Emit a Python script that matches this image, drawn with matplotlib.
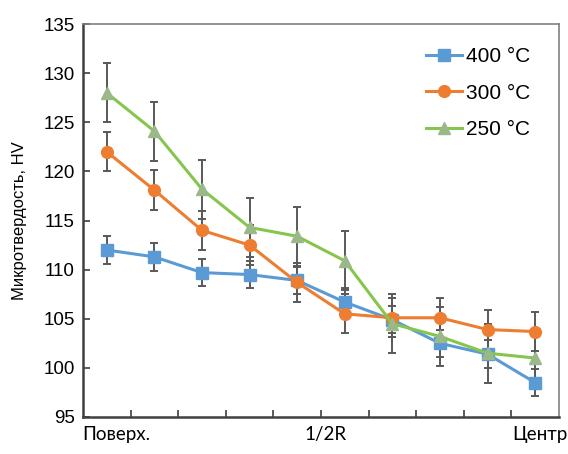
import matplotlib
matplotlib.use('Agg')
import matplotlib.pyplot as plt
import numpy as np
from matplotlib.lines import Line2D
from matplotlib.transforms import blended_transform_factory

plt.rcParams['font.family'] = ['Liberation Sans', 'DejaVu Sans']

# measurement points from the surface to the centre
points = np.arange(10)

hv_400 = [112.0, 111.3, 109.7, 109.5, 108.9, 106.7, 104.9, 102.5, 101.4, 98.5]
hv_300 = [122.0, 118.1, 114.0, 112.5, 108.7, 105.5, 105.1, 105.1, 103.9, 103.7]
hv_250 = [128.0, 124.1, 118.2, 114.3, 113.4, 110.9, 104.5, 103.2, 101.5, 101.0]

err_400 = [1.4] * 10
err_300 = [2.0] * 10
err_250 = [3.0] * 10

series_labels = ['400 °C', '300 °C', '250 °C']
position_labels = ['Поверх.', '1/2R', 'Центр']
label_x = [0.2, 4.6, 9.1]

fig = plt.figure(figsize=(5.68, 4.54), dpi=100)
ax = fig.add_axes([0.146, 0.0815, 0.838, 0.8655])

err_style = dict(ecolor='#595959', elinewidth=1.4, capsize=3, capthick=1.4)
styles = [
    dict(color='#5B9BD5', marker='s', ms=8, mfc='#5B9BD5', mec='#5B9BD5'),
    dict(color='#ED7D31', marker='o', ms=8.5, mfc='#ED7D31', mec='#ED7D31'),
    dict(color='#86C64C', marker='^', ms=8.5, mfc='#9AB88A', mec='#9AB88A'),
]

for vals, errs, st in zip([hv_400, hv_300, hv_250], [err_400, err_300, err_250], styles):
    ax.errorbar(points, vals, yerr=errs, lw=2.2, **st, **err_style)

ax.set_xlim(-0.5, 9.5)
ax.set_ylim(95, 135)
ax.set_yticks(np.arange(95, 136, 5))
ax.set_xticks(np.arange(0.5, 9, 1))
ax.set_xticklabels([])
ax.tick_params(axis='both', direction='in', length=5, width=1.2, color='#404040')
ax.tick_params(axis='y', labelsize=13.5, pad=6)

for side in ['left', 'bottom']:
    ax.spines[side].set_color('#404040')
    ax.spines[side].set_linewidth(1.8)
for side in ['top', 'right']:
    ax.spines[side].set_color('#808080')
    ax.spines[side].set_linewidth(1.2)

ax.set_ylabel('Микротвердость, HV', fontsize=12)
ax.yaxis.set_label_coords(-0.118, 0.5)

trans = blended_transform_factory(ax.transData, ax.transAxes)
for x, lab in zip(label_x, position_labels):
    ax.text(x, -0.045, lab, transform=trans, ha='center', va='center',
            fontsize=13.5, family=['Lato', 'DejaVu Sans'])

# legend entries: line with marker, no error bars
handles = [Line2D([], [], lw=2.2, **st) for st in styles]
ax.legend(handles, series_labels, loc='upper right', bbox_to_anchor=(0.958, 0.963),
          frameon=False, fontsize=15, handlelength=1.75, handletextpad=0.2,
          labelspacing=0.85, borderaxespad=0)

fig.savefig('out.png', dpi=100)
